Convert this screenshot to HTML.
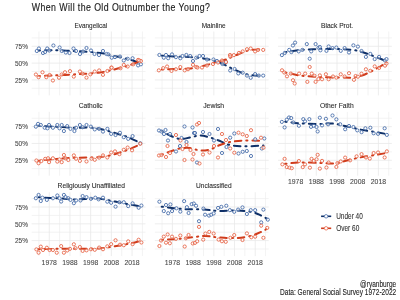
<!DOCTYPE html><html><head><meta charset="utf-8"><style>html,body{margin:0;padding:0;background:#fff;width:400px;height:300px;overflow:hidden}svg{display:block;filter:blur(0.3px)}</style></head><body>
<svg width="400" height="300" viewBox="0 0 400 300" font-family="Liberation Sans, sans-serif">
<rect width="400" height="300" fill="#fff"/>
<g stroke="#eeeeee" stroke-width="0.7" fill="none">
<line x1="38.90" y1="31.52" x2="38.90" y2="95.36"/>
<line x1="59.60" y1="31.52" x2="59.60" y2="95.36"/>
<line x1="80.30" y1="31.52" x2="80.30" y2="95.36"/>
<line x1="101.00" y1="31.52" x2="101.00" y2="95.36"/>
<line x1="121.70" y1="31.52" x2="121.70" y2="95.36"/>
<line x1="142.40" y1="31.52" x2="142.40" y2="95.36"/>
<line x1="31.66" y1="88.30" x2="145.50" y2="88.30"/>
<line x1="31.66" y1="71.50" x2="145.50" y2="71.50"/>
<line x1="31.66" y1="54.70" x2="145.50" y2="54.70"/>
<line x1="31.66" y1="37.90" x2="145.50" y2="37.90"/>
<line x1="162.07" y1="31.52" x2="162.07" y2="95.36"/>
<line x1="182.77" y1="31.52" x2="182.77" y2="95.36"/>
<line x1="203.47" y1="31.52" x2="203.47" y2="95.36"/>
<line x1="224.17" y1="31.52" x2="224.17" y2="95.36"/>
<line x1="244.87" y1="31.52" x2="244.87" y2="95.36"/>
<line x1="265.57" y1="31.52" x2="265.57" y2="95.36"/>
<line x1="154.83" y1="88.30" x2="268.68" y2="88.30"/>
<line x1="154.83" y1="71.50" x2="268.68" y2="71.50"/>
<line x1="154.83" y1="54.70" x2="268.68" y2="54.70"/>
<line x1="154.83" y1="37.90" x2="268.68" y2="37.90"/>
<line x1="285.24" y1="31.52" x2="285.24" y2="95.36"/>
<line x1="305.94" y1="31.52" x2="305.94" y2="95.36"/>
<line x1="326.64" y1="31.52" x2="326.64" y2="95.36"/>
<line x1="347.34" y1="31.52" x2="347.34" y2="95.36"/>
<line x1="368.04" y1="31.52" x2="368.04" y2="95.36"/>
<line x1="388.74" y1="31.52" x2="388.74" y2="95.36"/>
<line x1="278.00" y1="88.30" x2="391.85" y2="88.30"/>
<line x1="278.00" y1="71.50" x2="391.85" y2="71.50"/>
<line x1="278.00" y1="54.70" x2="391.85" y2="54.70"/>
<line x1="278.00" y1="37.90" x2="391.85" y2="37.90"/>
<line x1="38.90" y1="111.87" x2="38.90" y2="175.71"/>
<line x1="59.60" y1="111.87" x2="59.60" y2="175.71"/>
<line x1="80.30" y1="111.87" x2="80.30" y2="175.71"/>
<line x1="101.00" y1="111.87" x2="101.00" y2="175.71"/>
<line x1="121.70" y1="111.87" x2="121.70" y2="175.71"/>
<line x1="142.40" y1="111.87" x2="142.40" y2="175.71"/>
<line x1="31.66" y1="168.65" x2="145.50" y2="168.65"/>
<line x1="31.66" y1="151.85" x2="145.50" y2="151.85"/>
<line x1="31.66" y1="135.05" x2="145.50" y2="135.05"/>
<line x1="31.66" y1="118.25" x2="145.50" y2="118.25"/>
<line x1="162.07" y1="111.87" x2="162.07" y2="175.71"/>
<line x1="182.77" y1="111.87" x2="182.77" y2="175.71"/>
<line x1="203.47" y1="111.87" x2="203.47" y2="175.71"/>
<line x1="224.17" y1="111.87" x2="224.17" y2="175.71"/>
<line x1="244.87" y1="111.87" x2="244.87" y2="175.71"/>
<line x1="265.57" y1="111.87" x2="265.57" y2="175.71"/>
<line x1="154.83" y1="168.65" x2="268.68" y2="168.65"/>
<line x1="154.83" y1="151.85" x2="268.68" y2="151.85"/>
<line x1="154.83" y1="135.05" x2="268.68" y2="135.05"/>
<line x1="154.83" y1="118.25" x2="268.68" y2="118.25"/>
<line x1="285.24" y1="111.87" x2="285.24" y2="175.71"/>
<line x1="305.94" y1="111.87" x2="305.94" y2="175.71"/>
<line x1="326.64" y1="111.87" x2="326.64" y2="175.71"/>
<line x1="347.34" y1="111.87" x2="347.34" y2="175.71"/>
<line x1="368.04" y1="111.87" x2="368.04" y2="175.71"/>
<line x1="388.74" y1="111.87" x2="388.74" y2="175.71"/>
<line x1="278.00" y1="168.65" x2="391.85" y2="168.65"/>
<line x1="278.00" y1="151.85" x2="391.85" y2="151.85"/>
<line x1="278.00" y1="135.05" x2="391.85" y2="135.05"/>
<line x1="278.00" y1="118.25" x2="391.85" y2="118.25"/>
<line x1="38.90" y1="192.22" x2="38.90" y2="256.06"/>
<line x1="59.60" y1="192.22" x2="59.60" y2="256.06"/>
<line x1="80.30" y1="192.22" x2="80.30" y2="256.06"/>
<line x1="101.00" y1="192.22" x2="101.00" y2="256.06"/>
<line x1="121.70" y1="192.22" x2="121.70" y2="256.06"/>
<line x1="142.40" y1="192.22" x2="142.40" y2="256.06"/>
<line x1="31.66" y1="249.00" x2="145.50" y2="249.00"/>
<line x1="31.66" y1="232.20" x2="145.50" y2="232.20"/>
<line x1="31.66" y1="215.40" x2="145.50" y2="215.40"/>
<line x1="31.66" y1="198.60" x2="145.50" y2="198.60"/>
<line x1="162.07" y1="192.22" x2="162.07" y2="256.06"/>
<line x1="182.77" y1="192.22" x2="182.77" y2="256.06"/>
<line x1="203.47" y1="192.22" x2="203.47" y2="256.06"/>
<line x1="224.17" y1="192.22" x2="224.17" y2="256.06"/>
<line x1="244.87" y1="192.22" x2="244.87" y2="256.06"/>
<line x1="265.57" y1="192.22" x2="265.57" y2="256.06"/>
<line x1="154.83" y1="249.00" x2="268.68" y2="249.00"/>
<line x1="154.83" y1="232.20" x2="268.68" y2="232.20"/>
<line x1="154.83" y1="215.40" x2="268.68" y2="215.40"/>
<line x1="154.83" y1="198.60" x2="268.68" y2="198.60"/>
</g><g stroke="#e8e8e8" stroke-width="0.8" fill="none">
<line x1="49.25" y1="31.52" x2="49.25" y2="95.36"/>
<line x1="69.95" y1="31.52" x2="69.95" y2="95.36"/>
<line x1="90.65" y1="31.52" x2="90.65" y2="95.36"/>
<line x1="111.35" y1="31.52" x2="111.35" y2="95.36"/>
<line x1="132.05" y1="31.52" x2="132.05" y2="95.36"/>
<line x1="31.66" y1="79.90" x2="145.50" y2="79.90"/>
<line x1="31.66" y1="63.10" x2="145.50" y2="63.10"/>
<line x1="31.66" y1="46.30" x2="145.50" y2="46.30"/>
<line x1="172.42" y1="31.52" x2="172.42" y2="95.36"/>
<line x1="193.12" y1="31.52" x2="193.12" y2="95.36"/>
<line x1="213.82" y1="31.52" x2="213.82" y2="95.36"/>
<line x1="234.52" y1="31.52" x2="234.52" y2="95.36"/>
<line x1="255.22" y1="31.52" x2="255.22" y2="95.36"/>
<line x1="154.83" y1="79.90" x2="268.68" y2="79.90"/>
<line x1="154.83" y1="63.10" x2="268.68" y2="63.10"/>
<line x1="154.83" y1="46.30" x2="268.68" y2="46.30"/>
<line x1="295.59" y1="31.52" x2="295.59" y2="95.36"/>
<line x1="316.29" y1="31.52" x2="316.29" y2="95.36"/>
<line x1="336.99" y1="31.52" x2="336.99" y2="95.36"/>
<line x1="357.69" y1="31.52" x2="357.69" y2="95.36"/>
<line x1="378.39" y1="31.52" x2="378.39" y2="95.36"/>
<line x1="278.00" y1="79.90" x2="391.85" y2="79.90"/>
<line x1="278.00" y1="63.10" x2="391.85" y2="63.10"/>
<line x1="278.00" y1="46.30" x2="391.85" y2="46.30"/>
<line x1="49.25" y1="111.87" x2="49.25" y2="175.71"/>
<line x1="69.95" y1="111.87" x2="69.95" y2="175.71"/>
<line x1="90.65" y1="111.87" x2="90.65" y2="175.71"/>
<line x1="111.35" y1="111.87" x2="111.35" y2="175.71"/>
<line x1="132.05" y1="111.87" x2="132.05" y2="175.71"/>
<line x1="31.66" y1="160.25" x2="145.50" y2="160.25"/>
<line x1="31.66" y1="143.45" x2="145.50" y2="143.45"/>
<line x1="31.66" y1="126.65" x2="145.50" y2="126.65"/>
<line x1="172.42" y1="111.87" x2="172.42" y2="175.71"/>
<line x1="193.12" y1="111.87" x2="193.12" y2="175.71"/>
<line x1="213.82" y1="111.87" x2="213.82" y2="175.71"/>
<line x1="234.52" y1="111.87" x2="234.52" y2="175.71"/>
<line x1="255.22" y1="111.87" x2="255.22" y2="175.71"/>
<line x1="154.83" y1="160.25" x2="268.68" y2="160.25"/>
<line x1="154.83" y1="143.45" x2="268.68" y2="143.45"/>
<line x1="154.83" y1="126.65" x2="268.68" y2="126.65"/>
<line x1="295.59" y1="111.87" x2="295.59" y2="175.71"/>
<line x1="316.29" y1="111.87" x2="316.29" y2="175.71"/>
<line x1="336.99" y1="111.87" x2="336.99" y2="175.71"/>
<line x1="357.69" y1="111.87" x2="357.69" y2="175.71"/>
<line x1="378.39" y1="111.87" x2="378.39" y2="175.71"/>
<line x1="278.00" y1="160.25" x2="391.85" y2="160.25"/>
<line x1="278.00" y1="143.45" x2="391.85" y2="143.45"/>
<line x1="278.00" y1="126.65" x2="391.85" y2="126.65"/>
<line x1="49.25" y1="192.22" x2="49.25" y2="256.06"/>
<line x1="69.95" y1="192.22" x2="69.95" y2="256.06"/>
<line x1="90.65" y1="192.22" x2="90.65" y2="256.06"/>
<line x1="111.35" y1="192.22" x2="111.35" y2="256.06"/>
<line x1="132.05" y1="192.22" x2="132.05" y2="256.06"/>
<line x1="31.66" y1="240.60" x2="145.50" y2="240.60"/>
<line x1="31.66" y1="223.80" x2="145.50" y2="223.80"/>
<line x1="31.66" y1="207.00" x2="145.50" y2="207.00"/>
<line x1="172.42" y1="192.22" x2="172.42" y2="256.06"/>
<line x1="193.12" y1="192.22" x2="193.12" y2="256.06"/>
<line x1="213.82" y1="192.22" x2="213.82" y2="256.06"/>
<line x1="234.52" y1="192.22" x2="234.52" y2="256.06"/>
<line x1="255.22" y1="192.22" x2="255.22" y2="256.06"/>
<line x1="154.83" y1="240.60" x2="268.68" y2="240.60"/>
<line x1="154.83" y1="223.80" x2="268.68" y2="223.80"/>
<line x1="154.83" y1="207.00" x2="268.68" y2="207.00"/>
</g>
<g fill="none" stroke-width="2" stroke-linecap="round" stroke-dasharray="1.2 4.9 6.5 4.9" stroke-dashoffset="-2">
<path d="M36.80,50.50 C39.00,50.47 46.13,50.33 50.00,50.30 C53.87,50.27 56.33,50.18 60.00,50.30 C63.67,50.42 68.00,50.80 72.00,51.00 C76.00,51.20 80.67,51.33 84.00,51.50 C87.33,51.67 89.33,51.75 92.00,52.00 C94.67,52.25 97.67,52.67 100.00,53.00 C102.33,53.33 104.17,53.58 106.00,54.00 C107.83,54.42 108.67,55.00 111.00,55.50 C113.33,56.00 117.17,56.42 120.00,57.00 C122.83,57.58 125.83,58.42 128.00,59.00 C130.17,59.58 130.95,59.75 133.00,60.50 C135.05,61.25 139.08,63.00 140.30,63.50" stroke="#0f3068"/>
<path d="M36.80,76.00 C39.00,75.93 46.13,75.73 50.00,75.60 C53.87,75.47 56.33,75.38 60.00,75.20 C63.67,75.02 68.67,74.70 72.00,74.50 C75.33,74.30 77.00,74.17 80.00,74.00 C83.00,73.83 86.67,73.75 90.00,73.50 C93.33,73.25 97.00,72.92 100.00,72.50 C103.00,72.08 106.00,71.42 108.00,71.00 C110.00,70.58 110.00,70.50 112.00,70.00 C114.00,69.50 117.50,68.67 120.00,68.00 C122.50,67.33 124.83,66.67 127.00,66.00 C129.17,65.33 130.78,64.83 133.00,64.00 C135.22,63.17 139.08,61.50 140.30,61.00" stroke="#d03c1c"/>
<path d="M160.00,55.50 C162.50,55.67 170.00,56.25 175.00,56.50 C180.00,56.75 185.00,56.63 190.00,57.00 C195.00,57.37 200.75,58.03 205.00,58.70 C209.25,59.37 212.00,59.87 215.50,61.00 C219.00,62.13 222.58,63.95 226.00,65.50 C229.42,67.05 232.33,68.78 236.00,70.30 C239.67,71.82 243.42,73.62 248.00,74.60 C252.58,75.58 260.92,75.93 263.50,76.20" stroke="#0f3068"/>
<path d="M160.00,69.50 C162.50,69.42 170.00,69.17 175.00,69.00 C180.00,68.83 185.00,69.08 190.00,68.50 C195.00,67.92 200.75,66.50 205.00,65.50 C209.25,64.50 212.00,63.50 215.50,62.50 C219.00,61.50 222.58,60.72 226.00,59.50 C229.42,58.28 232.33,56.70 236.00,55.20 C239.67,53.70 243.42,51.48 248.00,50.50 C252.58,49.52 260.92,49.50 263.50,49.30" stroke="#d03c1c"/>
<path d="M283.40,52.50 C286.17,52.08 293.90,50.58 300.00,50.00 C306.10,49.42 313.33,49.17 320.00,49.00 C326.67,48.83 334.50,48.83 340.00,49.00 C345.50,49.17 349.33,49.50 353.00,50.00 C356.67,50.50 358.83,51.08 362.00,52.00 C365.17,52.92 368.83,54.33 372.00,55.50 C375.17,56.67 378.58,58.00 381.00,59.00 C383.42,60.00 385.58,61.08 386.50,61.50" stroke="#0f3068"/>
<path d="M283.40,72.00 C286.17,72.58 293.90,74.67 300.00,75.50 C306.10,76.33 313.33,76.67 320.00,77.00 C326.67,77.33 334.50,77.42 340.00,77.50 C345.50,77.58 349.33,77.83 353.00,77.50 C356.67,77.17 358.83,76.58 362.00,75.50 C365.17,74.42 368.83,72.58 372.00,71.00 C375.17,69.42 378.58,67.42 381.00,66.00 C383.42,64.58 385.58,63.08 386.50,62.50" stroke="#d03c1c"/>
<path d="M36.80,125.50 C39.00,125.67 46.13,126.25 50.00,126.50 C53.87,126.75 55.83,126.78 60.00,127.00 C64.17,127.22 70.00,127.72 75.00,127.80 C80.00,127.88 85.83,127.30 90.00,127.50 C94.17,127.70 96.67,128.33 100.00,129.00 C103.33,129.67 106.67,130.58 110.00,131.50 C113.33,132.42 116.67,133.42 120.00,134.50 C123.33,135.58 126.62,136.58 130.00,138.00 C133.38,139.42 138.58,142.17 140.30,143.00" stroke="#0f3068"/>
<path d="M36.80,161.00 C39.00,160.75 44.47,160.00 50.00,159.50 C55.53,159.00 63.33,158.33 70.00,158.00 C76.67,157.67 85.00,157.67 90.00,157.50 C95.00,157.33 96.67,157.33 100.00,157.00 C103.33,156.67 106.67,156.25 110.00,155.50 C113.33,154.75 116.67,153.58 120.00,152.50 C123.33,151.42 126.62,150.37 130.00,149.00 C133.38,147.63 138.58,145.08 140.30,144.30" stroke="#d03c1c"/>
<path d="M160.00,130.00 C161.67,130.92 166.67,134.00 170.00,135.50 C173.33,137.00 176.67,138.67 180.00,139.00 C183.33,139.33 186.67,138.08 190.00,137.50 C193.33,136.92 196.67,135.50 200.00,135.50 C203.33,135.50 206.67,136.58 210.00,137.50 C213.33,138.42 216.67,139.75 220.00,141.00 C223.33,142.25 225.83,144.12 230.00,145.00 C234.17,145.88 239.42,146.22 245.00,146.30 C250.58,146.38 260.42,145.63 263.50,145.50" stroke="#0f3068"/>
<path d="M160.00,155.50 C161.67,154.83 166.67,152.67 170.00,151.50 C173.33,150.33 176.67,149.08 180.00,148.50 C183.33,147.92 186.67,147.67 190.00,148.00 C193.33,148.33 196.67,150.25 200.00,150.50 C203.33,150.75 206.67,150.42 210.00,149.50 C213.33,148.58 216.67,146.25 220.00,145.00 C223.33,143.75 225.83,142.75 230.00,142.00 C234.17,141.25 239.42,140.67 245.00,140.50 C250.58,140.33 260.42,140.92 263.50,141.00" stroke="#d03c1c"/>
<path d="M283.40,121.50 C286.17,121.80 294.23,122.88 300.00,123.30 C305.77,123.72 312.67,123.97 318.00,124.00 C323.33,124.03 327.50,123.17 332.00,123.50 C336.50,123.83 340.33,125.00 345.00,126.00 C349.67,127.00 355.00,128.50 360.00,129.50 C365.00,130.50 370.58,131.25 375.00,132.00 C379.42,132.75 384.58,133.67 386.50,134.00" stroke="#0f3068"/>
<path d="M283.40,164.00 C286.17,163.75 293.90,162.67 300.00,162.50 C306.10,162.33 314.17,162.83 320.00,163.00 C325.83,163.17 330.83,163.83 335.00,163.50 C339.17,163.17 340.83,162.00 345.00,161.00 C349.17,160.00 355.00,158.50 360.00,157.50 C365.00,156.50 370.58,155.75 375.00,155.00 C379.42,154.25 384.58,153.33 386.50,153.00" stroke="#d03c1c"/>
<path d="M36.80,197.00 C39.00,197.17 45.80,197.75 50.00,198.00 C54.20,198.25 57.83,198.25 62.00,198.50 C66.17,198.75 71.17,199.42 75.00,199.50 C78.83,199.58 81.67,199.17 85.00,199.00 C88.33,198.83 91.67,198.42 95.00,198.50 C98.33,198.58 101.67,199.00 105.00,199.50 C108.33,200.00 110.83,200.67 115.00,201.50 C119.17,202.33 125.78,203.67 130.00,204.50 C134.22,205.33 138.58,206.17 140.30,206.50" stroke="#0f3068"/>
<path d="M36.80,249.30 C40.67,249.22 52.80,248.90 60.00,248.80 C67.20,248.70 74.17,248.73 80.00,248.70 C85.83,248.67 90.83,248.75 95.00,248.60 C99.17,248.45 101.67,248.20 105.00,247.80 C108.33,247.40 110.83,246.92 115.00,246.20 C119.17,245.48 125.78,244.37 130.00,243.50 C134.22,242.63 138.58,241.42 140.30,241.00" stroke="#d03c1c"/>
<path d="M160.00,206.50 C163.83,206.92 175.67,208.50 183.00,209.00 C190.33,209.50 198.00,209.17 204.00,209.50 C210.00,209.83 213.50,210.83 219.00,211.00 C224.50,211.17 231.50,210.33 237.00,210.50 C242.50,210.67 248.00,211.17 252.00,212.00 C256.00,212.83 258.28,214.25 261.00,215.50 C263.72,216.75 267.08,218.83 268.30,219.50" stroke="#0f3068"/>
<path d="M160.00,240.00 C163.83,239.75 175.67,239.17 183.00,238.50 C190.33,237.83 198.00,236.17 204.00,236.00 C210.00,235.83 213.50,237.17 219.00,237.50 C224.50,237.83 231.50,238.33 237.00,238.00 C242.50,237.67 247.83,236.58 252.00,235.50 C256.17,234.42 259.28,232.75 262.00,231.50 C264.72,230.25 267.25,228.58 268.30,228.00" stroke="#d03c1c"/>
</g>
<g fill="#fff" fill-opacity="0.5" stroke-width="0.9">
<circle cx="36.80" cy="51.00" r="1.6" stroke="#4a6fab"/>
<circle cx="38.90" cy="48.50" r="1.6" stroke="#4a6fab"/>
<circle cx="43.00" cy="53.00" r="1.6" stroke="#4a6fab"/>
<circle cx="45.10" cy="52.00" r="1.6" stroke="#4a6fab"/>
<circle cx="47.20" cy="48.50" r="1.6" stroke="#4a6fab"/>
<circle cx="49.25" cy="50.50" r="1.6" stroke="#4a6fab"/>
<circle cx="53.40" cy="45.50" r="1.6" stroke="#4a6fab"/>
<circle cx="59.60" cy="47.50" r="1.6" stroke="#4a6fab"/>
<circle cx="61.70" cy="51.00" r="1.6" stroke="#4a6fab"/>
<circle cx="65.80" cy="52.50" r="1.6" stroke="#4a6fab"/>
<circle cx="69.50" cy="53.00" r="1.6" stroke="#4a6fab"/>
<circle cx="73.50" cy="48.50" r="1.6" stroke="#4a6fab"/>
<circle cx="76.00" cy="51.00" r="1.6" stroke="#4a6fab"/>
<circle cx="80.00" cy="54.00" r="1.6" stroke="#4a6fab"/>
<circle cx="83.00" cy="51.50" r="1.6" stroke="#4a6fab"/>
<circle cx="86.50" cy="48.00" r="1.6" stroke="#4a6fab"/>
<circle cx="91.00" cy="50.50" r="1.6" stroke="#4a6fab"/>
<circle cx="94.50" cy="54.00" r="1.6" stroke="#4a6fab"/>
<circle cx="99.00" cy="55.00" r="1.6" stroke="#4a6fab"/>
<circle cx="103.00" cy="51.00" r="1.6" stroke="#4a6fab"/>
<circle cx="106.50" cy="54.00" r="1.6" stroke="#4a6fab"/>
<circle cx="108.40" cy="54.40" r="1.6" stroke="#4a6fab"/>
<circle cx="111.70" cy="57.70" r="1.6" stroke="#4a6fab"/>
<circle cx="115.00" cy="57.10" r="1.6" stroke="#4a6fab"/>
<circle cx="120.00" cy="56.60" r="1.6" stroke="#4a6fab"/>
<circle cx="123.80" cy="60.50" r="1.6" stroke="#4a6fab"/>
<circle cx="127.70" cy="58.80" r="1.6" stroke="#4a6fab"/>
<circle cx="132.60" cy="58.25" r="1.6" stroke="#4a6fab"/>
<circle cx="138.10" cy="65.40" r="1.6" stroke="#4a6fab"/>
<circle cx="140.90" cy="64.30" r="1.6" stroke="#4a6fab"/>
<circle cx="35.90" cy="74.50" r="1.6" stroke="#e8694c"/>
<circle cx="38.60" cy="77.20" r="1.6" stroke="#e8694c"/>
<circle cx="42.50" cy="72.25" r="1.6" stroke="#e8694c"/>
<circle cx="46.30" cy="77.20" r="1.6" stroke="#e8694c"/>
<circle cx="49.60" cy="75.00" r="1.6" stroke="#e8694c"/>
<circle cx="52.90" cy="80.50" r="1.6" stroke="#e8694c"/>
<circle cx="59.00" cy="77.75" r="1.6" stroke="#e8694c"/>
<circle cx="61.70" cy="74.50" r="1.6" stroke="#e8694c"/>
<circle cx="65.00" cy="72.25" r="1.6" stroke="#e8694c"/>
<circle cx="70.00" cy="71.15" r="1.6" stroke="#e8694c"/>
<circle cx="73.80" cy="76.60" r="1.6" stroke="#e8694c"/>
<circle cx="79.90" cy="71.55" r="1.6" stroke="#e8694c"/>
<circle cx="82.65" cy="73.75" r="1.6" stroke="#e8694c"/>
<circle cx="86.50" cy="77.60" r="1.6" stroke="#e8694c"/>
<circle cx="90.35" cy="74.30" r="1.6" stroke="#e8694c"/>
<circle cx="94.75" cy="71.55" r="1.6" stroke="#e8694c"/>
<circle cx="99.15" cy="70.45" r="1.6" stroke="#e8694c"/>
<circle cx="103.00" cy="74.85" r="1.6" stroke="#e8694c"/>
<circle cx="107.40" cy="71.00" r="1.6" stroke="#e8694c"/>
<circle cx="111.25" cy="67.70" r="1.6" stroke="#e8694c"/>
<circle cx="111.70" cy="67.60" r="1.6" stroke="#e8694c"/>
<circle cx="120.50" cy="68.20" r="1.6" stroke="#e8694c"/>
<circle cx="123.80" cy="64.90" r="1.6" stroke="#e8694c"/>
<circle cx="127.70" cy="66.50" r="1.6" stroke="#e8694c"/>
<circle cx="133.20" cy="64.30" r="1.6" stroke="#e8694c"/>
<circle cx="138.10" cy="59.90" r="1.6" stroke="#e8694c"/>
<circle cx="140.90" cy="61.00" r="1.6" stroke="#e8694c"/>
<circle cx="139.20" cy="60.40" r="1.6" stroke="#e8694c"/>
<circle cx="159.40" cy="54.95" r="1.6" stroke="#4a6fab"/>
<circle cx="163.80" cy="57.70" r="1.6" stroke="#4a6fab"/>
<circle cx="166.00" cy="54.95" r="1.6" stroke="#4a6fab"/>
<circle cx="168.20" cy="58.25" r="1.6" stroke="#4a6fab"/>
<circle cx="172.00" cy="54.40" r="1.6" stroke="#4a6fab"/>
<circle cx="175.90" cy="57.15" r="1.6" stroke="#4a6fab"/>
<circle cx="180.30" cy="58.25" r="1.6" stroke="#4a6fab"/>
<circle cx="182.50" cy="56.05" r="1.6" stroke="#4a6fab"/>
<circle cx="186.35" cy="54.95" r="1.6" stroke="#4a6fab"/>
<circle cx="190.20" cy="56.05" r="1.6" stroke="#4a6fab"/>
<circle cx="193.00" cy="61.00" r="1.6" stroke="#4a6fab"/>
<circle cx="196.25" cy="57.70" r="1.6" stroke="#4a6fab"/>
<circle cx="199.50" cy="56.00" r="1.6" stroke="#4a6fab"/>
<circle cx="203.00" cy="56.00" r="1.6" stroke="#4a6fab"/>
<circle cx="207.00" cy="59.50" r="1.6" stroke="#4a6fab"/>
<circle cx="213.50" cy="59.50" r="1.6" stroke="#4a6fab"/>
<circle cx="217.00" cy="61.00" r="1.6" stroke="#4a6fab"/>
<circle cx="222.50" cy="64.00" r="1.6" stroke="#4a6fab"/>
<circle cx="226.00" cy="62.00" r="1.6" stroke="#4a6fab"/>
<circle cx="230.20" cy="70.50" r="1.6" stroke="#4a6fab"/>
<circle cx="234.60" cy="69.00" r="1.6" stroke="#4a6fab"/>
<circle cx="238.30" cy="73.40" r="1.6" stroke="#4a6fab"/>
<circle cx="242.70" cy="72.70" r="1.6" stroke="#4a6fab"/>
<circle cx="247.00" cy="75.60" r="1.6" stroke="#4a6fab"/>
<circle cx="250.70" cy="77.80" r="1.6" stroke="#4a6fab"/>
<circle cx="255.10" cy="74.10" r="1.6" stroke="#4a6fab"/>
<circle cx="258.80" cy="75.60" r="1.6" stroke="#4a6fab"/>
<circle cx="263.20" cy="75.60" r="1.6" stroke="#4a6fab"/>
<circle cx="158.85" cy="70.35" r="1.6" stroke="#e8694c"/>
<circle cx="163.25" cy="68.15" r="1.6" stroke="#e8694c"/>
<circle cx="167.10" cy="66.50" r="1.6" stroke="#e8694c"/>
<circle cx="171.50" cy="70.90" r="1.6" stroke="#e8694c"/>
<circle cx="175.90" cy="69.25" r="1.6" stroke="#e8694c"/>
<circle cx="180.30" cy="67.05" r="1.6" stroke="#e8694c"/>
<circle cx="184.70" cy="70.35" r="1.6" stroke="#e8694c"/>
<circle cx="188.00" cy="69.25" r="1.6" stroke="#e8694c"/>
<circle cx="193.00" cy="64.85" r="1.6" stroke="#e8694c"/>
<circle cx="196.25" cy="67.05" r="1.6" stroke="#e8694c"/>
<circle cx="197.50" cy="67.50" r="1.6" stroke="#e8694c"/>
<circle cx="202.00" cy="67.50" r="1.6" stroke="#e8694c"/>
<circle cx="207.00" cy="65.50" r="1.6" stroke="#e8694c"/>
<circle cx="213.00" cy="64.00" r="1.6" stroke="#e8694c"/>
<circle cx="218.00" cy="62.50" r="1.6" stroke="#e8694c"/>
<circle cx="222.00" cy="60.50" r="1.6" stroke="#e8694c"/>
<circle cx="226.00" cy="62.00" r="1.6" stroke="#e8694c"/>
<circle cx="230.00" cy="55.00" r="1.6" stroke="#e8694c"/>
<circle cx="230.20" cy="56.50" r="1.6" stroke="#e8694c"/>
<circle cx="233.90" cy="55.10" r="1.6" stroke="#e8694c"/>
<circle cx="239.00" cy="52.90" r="1.6" stroke="#e8694c"/>
<circle cx="242.70" cy="51.40" r="1.6" stroke="#e8694c"/>
<circle cx="247.00" cy="49.20" r="1.6" stroke="#e8694c"/>
<circle cx="250.70" cy="48.50" r="1.6" stroke="#e8694c"/>
<circle cx="255.10" cy="51.40" r="1.6" stroke="#e8694c"/>
<circle cx="258.00" cy="49.90" r="1.6" stroke="#e8694c"/>
<circle cx="263.20" cy="49.90" r="1.6" stroke="#e8694c"/>
<circle cx="281.90" cy="55.10" r="1.6" stroke="#4a6fab"/>
<circle cx="284.80" cy="52.90" r="1.6" stroke="#4a6fab"/>
<circle cx="289.20" cy="49.90" r="1.6" stroke="#4a6fab"/>
<circle cx="291.40" cy="52.10" r="1.6" stroke="#4a6fab"/>
<circle cx="292.90" cy="45.50" r="1.6" stroke="#4a6fab"/>
<circle cx="295.10" cy="42.60" r="1.6" stroke="#4a6fab"/>
<circle cx="298.70" cy="51.40" r="1.6" stroke="#4a6fab"/>
<circle cx="302.40" cy="49.90" r="1.6" stroke="#4a6fab"/>
<circle cx="306.80" cy="44.10" r="1.6" stroke="#4a6fab"/>
<circle cx="309.70" cy="58.70" r="1.6" stroke="#4a6fab"/>
<circle cx="311.20" cy="51.40" r="1.6" stroke="#4a6fab"/>
<circle cx="315.60" cy="44.10" r="1.6" stroke="#4a6fab"/>
<circle cx="318.50" cy="47.70" r="1.6" stroke="#4a6fab"/>
<circle cx="319.85" cy="47.00" r="1.6" stroke="#4a6fab"/>
<circle cx="320.40" cy="50.30" r="1.6" stroke="#4a6fab"/>
<circle cx="326.45" cy="50.85" r="1.6" stroke="#4a6fab"/>
<circle cx="328.65" cy="46.45" r="1.6" stroke="#4a6fab"/>
<circle cx="332.50" cy="48.10" r="1.6" stroke="#4a6fab"/>
<circle cx="336.35" cy="47.55" r="1.6" stroke="#4a6fab"/>
<circle cx="340.75" cy="50.85" r="1.6" stroke="#4a6fab"/>
<circle cx="344.60" cy="48.10" r="1.6" stroke="#4a6fab"/>
<circle cx="349.00" cy="52.50" r="1.6" stroke="#4a6fab"/>
<circle cx="353.40" cy="45.35" r="1.6" stroke="#4a6fab"/>
<circle cx="357.90" cy="46.60" r="1.6" stroke="#4a6fab"/>
<circle cx="361.50" cy="51.00" r="1.6" stroke="#4a6fab"/>
<circle cx="365.90" cy="56.90" r="1.6" stroke="#4a6fab"/>
<circle cx="370.30" cy="53.90" r="1.6" stroke="#4a6fab"/>
<circle cx="374.70" cy="59.10" r="1.6" stroke="#4a6fab"/>
<circle cx="379.10" cy="56.90" r="1.6" stroke="#4a6fab"/>
<circle cx="385.00" cy="60.50" r="1.6" stroke="#4a6fab"/>
<circle cx="386.50" cy="59.10" r="1.6" stroke="#4a6fab"/>
<circle cx="282.00" cy="70.30" r="1.6" stroke="#e8694c"/>
<circle cx="284.25" cy="72.50" r="1.6" stroke="#e8694c"/>
<circle cx="287.00" cy="76.35" r="1.6" stroke="#e8694c"/>
<circle cx="290.85" cy="73.60" r="1.6" stroke="#e8694c"/>
<circle cx="293.00" cy="80.20" r="1.6" stroke="#e8694c"/>
<circle cx="294.70" cy="83.50" r="1.6" stroke="#e8694c"/>
<circle cx="299.10" cy="73.60" r="1.6" stroke="#e8694c"/>
<circle cx="305.15" cy="73.60" r="1.6" stroke="#e8694c"/>
<circle cx="307.35" cy="81.85" r="1.6" stroke="#e8694c"/>
<circle cx="309.70" cy="67.00" r="1.6" stroke="#e8694c"/>
<circle cx="311.75" cy="73.60" r="1.6" stroke="#e8694c"/>
<circle cx="314.50" cy="75.80" r="1.6" stroke="#e8694c"/>
<circle cx="315.60" cy="81.85" r="1.6" stroke="#e8694c"/>
<circle cx="318.35" cy="79.10" r="1.6" stroke="#e8694c"/>
<circle cx="319.85" cy="75.40" r="1.6" stroke="#e8694c"/>
<circle cx="322.05" cy="79.25" r="1.6" stroke="#e8694c"/>
<circle cx="325.90" cy="74.30" r="1.6" stroke="#e8694c"/>
<circle cx="328.65" cy="79.25" r="1.6" stroke="#e8694c"/>
<circle cx="333.00" cy="76.50" r="1.6" stroke="#e8694c"/>
<circle cx="336.35" cy="77.60" r="1.6" stroke="#e8694c"/>
<circle cx="340.75" cy="74.30" r="1.6" stroke="#e8694c"/>
<circle cx="344.60" cy="76.50" r="1.6" stroke="#e8694c"/>
<circle cx="349.00" cy="73.20" r="1.6" stroke="#e8694c"/>
<circle cx="353.95" cy="79.80" r="1.6" stroke="#e8694c"/>
<circle cx="355.60" cy="76.00" r="1.6" stroke="#e8694c"/>
<circle cx="357.90" cy="76.70" r="1.6" stroke="#e8694c"/>
<circle cx="361.50" cy="73.70" r="1.6" stroke="#e8694c"/>
<circle cx="365.90" cy="69.30" r="1.6" stroke="#e8694c"/>
<circle cx="370.30" cy="70.80" r="1.6" stroke="#e8694c"/>
<circle cx="374.70" cy="66.40" r="1.6" stroke="#e8694c"/>
<circle cx="379.10" cy="67.90" r="1.6" stroke="#e8694c"/>
<circle cx="385.00" cy="65.65" r="1.6" stroke="#e8694c"/>
<circle cx="386.50" cy="63.50" r="1.6" stroke="#e8694c"/>
<circle cx="35.85" cy="126.65" r="1.6" stroke="#4a6fab"/>
<circle cx="38.05" cy="123.90" r="1.6" stroke="#4a6fab"/>
<circle cx="40.80" cy="125.00" r="1.6" stroke="#4a6fab"/>
<circle cx="44.65" cy="127.75" r="1.6" stroke="#4a6fab"/>
<circle cx="47.40" cy="128.30" r="1.6" stroke="#4a6fab"/>
<circle cx="49.05" cy="125.00" r="1.6" stroke="#4a6fab"/>
<circle cx="52.90" cy="127.75" r="1.6" stroke="#4a6fab"/>
<circle cx="57.30" cy="125.00" r="1.6" stroke="#4a6fab"/>
<circle cx="59.50" cy="128.30" r="1.6" stroke="#4a6fab"/>
<circle cx="61.70" cy="125.00" r="1.6" stroke="#4a6fab"/>
<circle cx="63.90" cy="131.05" r="1.6" stroke="#4a6fab"/>
<circle cx="67.20" cy="126.10" r="1.6" stroke="#4a6fab"/>
<circle cx="70.50" cy="128.85" r="1.6" stroke="#4a6fab"/>
<circle cx="74.40" cy="131.05" r="1.6" stroke="#4a6fab"/>
<circle cx="76.05" cy="127.75" r="1.6" stroke="#4a6fab"/>
<circle cx="79.90" cy="125.00" r="1.6" stroke="#4a6fab"/>
<circle cx="82.65" cy="127.20" r="1.6" stroke="#4a6fab"/>
<circle cx="86.50" cy="125.00" r="1.6" stroke="#4a6fab"/>
<circle cx="90.90" cy="126.65" r="1.6" stroke="#4a6fab"/>
<circle cx="94.75" cy="129.40" r="1.6" stroke="#4a6fab"/>
<circle cx="99.15" cy="128.85" r="1.6" stroke="#4a6fab"/>
<circle cx="103.00" cy="131.60" r="1.6" stroke="#4a6fab"/>
<circle cx="107.40" cy="128.85" r="1.6" stroke="#4a6fab"/>
<circle cx="111.15" cy="133.90" r="1.6" stroke="#4a6fab"/>
<circle cx="115.55" cy="135.00" r="1.6" stroke="#4a6fab"/>
<circle cx="119.95" cy="132.80" r="1.6" stroke="#4a6fab"/>
<circle cx="123.80" cy="137.20" r="1.6" stroke="#4a6fab"/>
<circle cx="128.20" cy="138.85" r="1.6" stroke="#4a6fab"/>
<circle cx="132.60" cy="136.10" r="1.6" stroke="#4a6fab"/>
<circle cx="140.30" cy="143.25" r="1.6" stroke="#4a6fab"/>
<circle cx="36.40" cy="160.50" r="1.6" stroke="#e8694c"/>
<circle cx="38.60" cy="163.25" r="1.6" stroke="#e8694c"/>
<circle cx="41.35" cy="161.05" r="1.6" stroke="#e8694c"/>
<circle cx="45.20" cy="158.85" r="1.6" stroke="#e8694c"/>
<circle cx="48.00" cy="158.30" r="1.6" stroke="#e8694c"/>
<circle cx="49.05" cy="162.15" r="1.6" stroke="#e8694c"/>
<circle cx="52.90" cy="158.30" r="1.6" stroke="#e8694c"/>
<circle cx="57.30" cy="161.60" r="1.6" stroke="#e8694c"/>
<circle cx="59.50" cy="159.40" r="1.6" stroke="#e8694c"/>
<circle cx="61.70" cy="162.15" r="1.6" stroke="#e8694c"/>
<circle cx="63.90" cy="155.00" r="1.6" stroke="#e8694c"/>
<circle cx="65.55" cy="158.30" r="1.6" stroke="#e8694c"/>
<circle cx="68.30" cy="160.00" r="1.6" stroke="#e8694c"/>
<circle cx="73.85" cy="155.40" r="1.6" stroke="#e8694c"/>
<circle cx="76.05" cy="158.70" r="1.6" stroke="#e8694c"/>
<circle cx="79.90" cy="160.90" r="1.6" stroke="#e8694c"/>
<circle cx="86.50" cy="161.45" r="1.6" stroke="#e8694c"/>
<circle cx="91.45" cy="158.70" r="1.6" stroke="#e8694c"/>
<circle cx="94.75" cy="159.80" r="1.6" stroke="#e8694c"/>
<circle cx="99.15" cy="157.60" r="1.6" stroke="#e8694c"/>
<circle cx="103.00" cy="155.40" r="1.6" stroke="#e8694c"/>
<circle cx="107.30" cy="157.45" r="1.6" stroke="#e8694c"/>
<circle cx="111.15" cy="152.50" r="1.6" stroke="#e8694c"/>
<circle cx="115.00" cy="151.40" r="1.6" stroke="#e8694c"/>
<circle cx="119.40" cy="154.15" r="1.6" stroke="#e8694c"/>
<circle cx="123.80" cy="149.75" r="1.6" stroke="#e8694c"/>
<circle cx="127.65" cy="147.55" r="1.6" stroke="#e8694c"/>
<circle cx="132.05" cy="150.30" r="1.6" stroke="#e8694c"/>
<circle cx="140.30" cy="143.80" r="1.6" stroke="#e8694c"/>
<circle cx="159.00" cy="130.50" r="1.6" stroke="#4a6fab"/>
<circle cx="161.50" cy="131.50" r="1.6" stroke="#4a6fab"/>
<circle cx="165.50" cy="130.00" r="1.6" stroke="#4a6fab"/>
<circle cx="164.00" cy="134.00" r="1.6" stroke="#4a6fab"/>
<circle cx="170.00" cy="134.00" r="1.6" stroke="#4a6fab"/>
<circle cx="168.00" cy="140.50" r="1.6" stroke="#4a6fab"/>
<circle cx="176.00" cy="151.50" r="1.6" stroke="#4a6fab"/>
<circle cx="180.00" cy="146.00" r="1.6" stroke="#4a6fab"/>
<circle cx="181.50" cy="138.00" r="1.6" stroke="#4a6fab"/>
<circle cx="184.50" cy="126.50" r="1.6" stroke="#4a6fab"/>
<circle cx="186.50" cy="142.00" r="1.6" stroke="#4a6fab"/>
<circle cx="192.50" cy="127.50" r="1.6" stroke="#4a6fab"/>
<circle cx="194.00" cy="133.00" r="1.6" stroke="#4a6fab"/>
<circle cx="195.00" cy="133.00" r="1.6" stroke="#4a6fab"/>
<circle cx="197.00" cy="162.50" r="1.6" stroke="#4a6fab"/>
<circle cx="203.00" cy="132.00" r="1.6" stroke="#4a6fab"/>
<circle cx="209.50" cy="134.00" r="1.6" stroke="#4a6fab"/>
<circle cx="214.00" cy="140.50" r="1.6" stroke="#4a6fab"/>
<circle cx="218.00" cy="129.00" r="1.6" stroke="#4a6fab"/>
<circle cx="222.00" cy="153.00" r="1.6" stroke="#4a6fab"/>
<circle cx="226.50" cy="147.00" r="1.6" stroke="#4a6fab"/>
<circle cx="230.20" cy="137.70" r="1.6" stroke="#4a6fab"/>
<circle cx="234.30" cy="133.50" r="1.6" stroke="#4a6fab"/>
<circle cx="238.50" cy="153.50" r="1.6" stroke="#4a6fab"/>
<circle cx="242.70" cy="151.80" r="1.6" stroke="#4a6fab"/>
<circle cx="246.80" cy="151.00" r="1.6" stroke="#4a6fab"/>
<circle cx="251.00" cy="156.00" r="1.6" stroke="#4a6fab"/>
<circle cx="255.20" cy="139.30" r="1.6" stroke="#4a6fab"/>
<circle cx="261.80" cy="148.50" r="1.6" stroke="#4a6fab"/>
<circle cx="264.30" cy="138.50" r="1.6" stroke="#4a6fab"/>
<circle cx="159.00" cy="155.50" r="1.6" stroke="#e8694c"/>
<circle cx="161.50" cy="155.00" r="1.6" stroke="#e8694c"/>
<circle cx="166.00" cy="157.00" r="1.6" stroke="#e8694c"/>
<circle cx="167.50" cy="146.00" r="1.6" stroke="#e8694c"/>
<circle cx="170.00" cy="153.00" r="1.6" stroke="#e8694c"/>
<circle cx="176.00" cy="135.00" r="1.6" stroke="#e8694c"/>
<circle cx="180.50" cy="140.50" r="1.6" stroke="#e8694c"/>
<circle cx="182.50" cy="149.00" r="1.6" stroke="#e8694c"/>
<circle cx="184.50" cy="160.00" r="1.6" stroke="#e8694c"/>
<circle cx="186.50" cy="145.00" r="1.6" stroke="#e8694c"/>
<circle cx="190.50" cy="150.00" r="1.6" stroke="#e8694c"/>
<circle cx="193.50" cy="154.00" r="1.6" stroke="#e8694c"/>
<circle cx="192.50" cy="159.50" r="1.6" stroke="#e8694c"/>
<circle cx="197.00" cy="124.50" r="1.6" stroke="#e8694c"/>
<circle cx="199.00" cy="123.00" r="1.6" stroke="#e8694c"/>
<circle cx="199.50" cy="163.50" r="1.6" stroke="#e8694c"/>
<circle cx="203.00" cy="154.50" r="1.6" stroke="#e8694c"/>
<circle cx="209.50" cy="152.50" r="1.6" stroke="#e8694c"/>
<circle cx="214.00" cy="146.00" r="1.6" stroke="#e8694c"/>
<circle cx="218.00" cy="157.50" r="1.6" stroke="#e8694c"/>
<circle cx="222.00" cy="134.00" r="1.6" stroke="#e8694c"/>
<circle cx="226.00" cy="140.00" r="1.6" stroke="#e8694c"/>
<circle cx="230.20" cy="148.50" r="1.6" stroke="#e8694c"/>
<circle cx="234.30" cy="152.70" r="1.6" stroke="#e8694c"/>
<circle cx="238.50" cy="132.70" r="1.6" stroke="#e8694c"/>
<circle cx="242.70" cy="134.30" r="1.6" stroke="#e8694c"/>
<circle cx="246.80" cy="136.00" r="1.6" stroke="#e8694c"/>
<circle cx="251.00" cy="130.20" r="1.6" stroke="#e8694c"/>
<circle cx="261.00" cy="137.70" r="1.6" stroke="#e8694c"/>
<circle cx="263.50" cy="147.70" r="1.6" stroke="#e8694c"/>
<circle cx="281.85" cy="121.90" r="1.6" stroke="#4a6fab"/>
<circle cx="284.60" cy="127.40" r="1.6" stroke="#4a6fab"/>
<circle cx="286.80" cy="119.70" r="1.6" stroke="#4a6fab"/>
<circle cx="289.00" cy="117.50" r="1.6" stroke="#4a6fab"/>
<circle cx="291.20" cy="118.05" r="1.6" stroke="#4a6fab"/>
<circle cx="293.40" cy="122.45" r="1.6" stroke="#4a6fab"/>
<circle cx="298.90" cy="125.75" r="1.6" stroke="#4a6fab"/>
<circle cx="303.30" cy="119.15" r="1.6" stroke="#4a6fab"/>
<circle cx="305.00" cy="121.35" r="1.6" stroke="#4a6fab"/>
<circle cx="309.35" cy="119.15" r="1.6" stroke="#4a6fab"/>
<circle cx="311.00" cy="126.85" r="1.6" stroke="#4a6fab"/>
<circle cx="313.75" cy="125.75" r="1.6" stroke="#4a6fab"/>
<circle cx="316.55" cy="127.00" r="1.6" stroke="#4a6fab"/>
<circle cx="317.65" cy="131.45" r="1.6" stroke="#4a6fab"/>
<circle cx="319.85" cy="117.70" r="1.6" stroke="#4a6fab"/>
<circle cx="322.05" cy="125.40" r="1.6" stroke="#4a6fab"/>
<circle cx="325.90" cy="118.80" r="1.6" stroke="#4a6fab"/>
<circle cx="328.10" cy="124.30" r="1.6" stroke="#4a6fab"/>
<circle cx="332.50" cy="115.50" r="1.6" stroke="#4a6fab"/>
<circle cx="336.35" cy="119.35" r="1.6" stroke="#4a6fab"/>
<circle cx="340.20" cy="124.30" r="1.6" stroke="#4a6fab"/>
<circle cx="345.15" cy="129.25" r="1.6" stroke="#4a6fab"/>
<circle cx="349.00" cy="126.00" r="1.6" stroke="#4a6fab"/>
<circle cx="353.40" cy="127.05" r="1.6" stroke="#4a6fab"/>
<circle cx="357.25" cy="130.35" r="1.6" stroke="#4a6fab"/>
<circle cx="361.55" cy="132.15" r="1.6" stroke="#4a6fab"/>
<circle cx="365.40" cy="128.30" r="1.6" stroke="#4a6fab"/>
<circle cx="370.35" cy="127.75" r="1.6" stroke="#4a6fab"/>
<circle cx="373.65" cy="133.25" r="1.6" stroke="#4a6fab"/>
<circle cx="378.05" cy="133.80" r="1.6" stroke="#4a6fab"/>
<circle cx="384.65" cy="128.30" r="1.6" stroke="#4a6fab"/>
<circle cx="386.85" cy="134.90" r="1.6" stroke="#4a6fab"/>
<circle cx="282.40" cy="164.35" r="1.6" stroke="#e8694c"/>
<circle cx="284.60" cy="158.85" r="1.6" stroke="#e8694c"/>
<circle cx="286.80" cy="167.10" r="1.6" stroke="#e8694c"/>
<circle cx="289.55" cy="167.65" r="1.6" stroke="#e8694c"/>
<circle cx="291.75" cy="168.20" r="1.6" stroke="#e8694c"/>
<circle cx="298.90" cy="161.05" r="1.6" stroke="#e8694c"/>
<circle cx="302.75" cy="167.10" r="1.6" stroke="#e8694c"/>
<circle cx="305.00" cy="164.35" r="1.6" stroke="#e8694c"/>
<circle cx="309.90" cy="167.65" r="1.6" stroke="#e8694c"/>
<circle cx="311.55" cy="158.85" r="1.6" stroke="#e8694c"/>
<circle cx="313.75" cy="161.05" r="1.6" stroke="#e8694c"/>
<circle cx="317.65" cy="154.85" r="1.6" stroke="#e8694c"/>
<circle cx="316.55" cy="159.25" r="1.6" stroke="#e8694c"/>
<circle cx="319.85" cy="168.60" r="1.6" stroke="#e8694c"/>
<circle cx="322.05" cy="160.90" r="1.6" stroke="#e8694c"/>
<circle cx="326.45" cy="167.50" r="1.6" stroke="#e8694c"/>
<circle cx="328.65" cy="162.55" r="1.6" stroke="#e8694c"/>
<circle cx="336.35" cy="166.95" r="1.6" stroke="#e8694c"/>
<circle cx="337.45" cy="163.10" r="1.6" stroke="#e8694c"/>
<circle cx="340.75" cy="161.45" r="1.6" stroke="#e8694c"/>
<circle cx="345.15" cy="157.60" r="1.6" stroke="#e8694c"/>
<circle cx="350.10" cy="160.35" r="1.6" stroke="#e8694c"/>
<circle cx="356.60" cy="156.35" r="1.6" stroke="#e8694c"/>
<circle cx="361.55" cy="154.15" r="1.6" stroke="#e8694c"/>
<circle cx="366.00" cy="157.45" r="1.6" stroke="#e8694c"/>
<circle cx="369.80" cy="158.55" r="1.6" stroke="#e8694c"/>
<circle cx="373.65" cy="153.05" r="1.6" stroke="#e8694c"/>
<circle cx="378.05" cy="152.50" r="1.6" stroke="#e8694c"/>
<circle cx="384.65" cy="157.45" r="1.6" stroke="#e8694c"/>
<circle cx="386.85" cy="151.40" r="1.6" stroke="#e8694c"/>
<circle cx="35.85" cy="198.25" r="1.6" stroke="#4a6fab"/>
<circle cx="38.60" cy="194.95" r="1.6" stroke="#4a6fab"/>
<circle cx="40.80" cy="201.00" r="1.6" stroke="#4a6fab"/>
<circle cx="42.45" cy="197.70" r="1.6" stroke="#4a6fab"/>
<circle cx="46.85" cy="199.90" r="1.6" stroke="#4a6fab"/>
<circle cx="52.90" cy="198.25" r="1.6" stroke="#4a6fab"/>
<circle cx="57.30" cy="195.50" r="1.6" stroke="#4a6fab"/>
<circle cx="59.50" cy="198.25" r="1.6" stroke="#4a6fab"/>
<circle cx="61.15" cy="201.55" r="1.6" stroke="#4a6fab"/>
<circle cx="63.90" cy="194.95" r="1.6" stroke="#4a6fab"/>
<circle cx="65.55" cy="197.15" r="1.6" stroke="#4a6fab"/>
<circle cx="68.30" cy="198.25" r="1.6" stroke="#4a6fab"/>
<circle cx="70.50" cy="199.90" r="1.6" stroke="#4a6fab"/>
<circle cx="73.85" cy="203.20" r="1.6" stroke="#4a6fab"/>
<circle cx="76.05" cy="200.45" r="1.6" stroke="#4a6fab"/>
<circle cx="80.45" cy="200.45" r="1.6" stroke="#4a6fab"/>
<circle cx="82.65" cy="196.05" r="1.6" stroke="#4a6fab"/>
<circle cx="86.50" cy="197.15" r="1.6" stroke="#4a6fab"/>
<circle cx="90.90" cy="198.80" r="1.6" stroke="#4a6fab"/>
<circle cx="95.30" cy="197.70" r="1.6" stroke="#4a6fab"/>
<circle cx="98.60" cy="199.35" r="1.6" stroke="#4a6fab"/>
<circle cx="103.00" cy="197.70" r="1.6" stroke="#4a6fab"/>
<circle cx="107.30" cy="201.70" r="1.6" stroke="#4a6fab"/>
<circle cx="111.15" cy="202.80" r="1.6" stroke="#4a6fab"/>
<circle cx="115.55" cy="206.65" r="1.6" stroke="#4a6fab"/>
<circle cx="119.40" cy="202.25" r="1.6" stroke="#4a6fab"/>
<circle cx="123.80" cy="202.25" r="1.6" stroke="#4a6fab"/>
<circle cx="128.20" cy="206.10" r="1.6" stroke="#4a6fab"/>
<circle cx="132.60" cy="203.35" r="1.6" stroke="#4a6fab"/>
<circle cx="138.65" cy="207.75" r="1.6" stroke="#4a6fab"/>
<circle cx="141.40" cy="205.55" r="1.6" stroke="#4a6fab"/>
<circle cx="36.40" cy="249.40" r="1.6" stroke="#e8694c"/>
<circle cx="38.60" cy="252.70" r="1.6" stroke="#e8694c"/>
<circle cx="40.80" cy="246.65" r="1.6" stroke="#e8694c"/>
<circle cx="43.00" cy="250.00" r="1.6" stroke="#e8694c"/>
<circle cx="46.85" cy="247.75" r="1.6" stroke="#e8694c"/>
<circle cx="49.60" cy="250.00" r="1.6" stroke="#e8694c"/>
<circle cx="52.90" cy="250.00" r="1.6" stroke="#e8694c"/>
<circle cx="56.75" cy="252.70" r="1.6" stroke="#e8694c"/>
<circle cx="61.15" cy="246.10" r="1.6" stroke="#e8694c"/>
<circle cx="63.90" cy="252.70" r="1.6" stroke="#e8694c"/>
<circle cx="67.20" cy="250.50" r="1.6" stroke="#e8694c"/>
<circle cx="69.95" cy="248.85" r="1.6" stroke="#e8694c"/>
<circle cx="73.85" cy="244.30" r="1.6" stroke="#e8694c"/>
<circle cx="75.50" cy="248.15" r="1.6" stroke="#e8694c"/>
<circle cx="79.90" cy="247.05" r="1.6" stroke="#e8694c"/>
<circle cx="82.65" cy="250.90" r="1.6" stroke="#e8694c"/>
<circle cx="86.50" cy="250.35" r="1.6" stroke="#e8694c"/>
<circle cx="90.90" cy="249.25" r="1.6" stroke="#e8694c"/>
<circle cx="94.75" cy="249.80" r="1.6" stroke="#e8694c"/>
<circle cx="99.15" cy="247.60" r="1.6" stroke="#e8694c"/>
<circle cx="103.00" cy="249.25" r="1.6" stroke="#e8694c"/>
<circle cx="107.30" cy="246.35" r="1.6" stroke="#e8694c"/>
<circle cx="111.15" cy="244.15" r="1.6" stroke="#e8694c"/>
<circle cx="115.55" cy="240.30" r="1.6" stroke="#e8694c"/>
<circle cx="120.00" cy="244.70" r="1.6" stroke="#e8694c"/>
<circle cx="123.80" cy="245.25" r="1.6" stroke="#e8694c"/>
<circle cx="128.20" cy="241.40" r="1.6" stroke="#e8694c"/>
<circle cx="132.60" cy="244.15" r="1.6" stroke="#e8694c"/>
<circle cx="138.65" cy="239.75" r="1.6" stroke="#e8694c"/>
<circle cx="141.40" cy="242.50" r="1.6" stroke="#e8694c"/>
<circle cx="159.40" cy="201.70" r="1.6" stroke="#4a6fab"/>
<circle cx="163.80" cy="211.05" r="1.6" stroke="#4a6fab"/>
<circle cx="166.00" cy="205.00" r="1.6" stroke="#4a6fab"/>
<circle cx="168.20" cy="213.25" r="1.6" stroke="#4a6fab"/>
<circle cx="170.40" cy="204.45" r="1.6" stroke="#4a6fab"/>
<circle cx="172.05" cy="211.05" r="1.6" stroke="#4a6fab"/>
<circle cx="176.45" cy="208.30" r="1.6" stroke="#4a6fab"/>
<circle cx="180.30" cy="211.60" r="1.6" stroke="#4a6fab"/>
<circle cx="184.15" cy="201.15" r="1.6" stroke="#4a6fab"/>
<circle cx="186.90" cy="207.20" r="1.6" stroke="#4a6fab"/>
<circle cx="188.60" cy="213.00" r="1.6" stroke="#4a6fab"/>
<circle cx="191.65" cy="204.10" r="1.6" stroke="#4a6fab"/>
<circle cx="193.85" cy="203.55" r="1.6" stroke="#4a6fab"/>
<circle cx="196.05" cy="205.75" r="1.6" stroke="#4a6fab"/>
<circle cx="199.00" cy="221.20" r="1.6" stroke="#4a6fab"/>
<circle cx="203.40" cy="208.60" r="1.6" stroke="#4a6fab"/>
<circle cx="205.10" cy="214.70" r="1.6" stroke="#4a6fab"/>
<circle cx="209.00" cy="215.60" r="1.6" stroke="#4a6fab"/>
<circle cx="211.20" cy="214.70" r="1.6" stroke="#4a6fab"/>
<circle cx="213.65" cy="213.45" r="1.6" stroke="#4a6fab"/>
<circle cx="218.05" cy="207.95" r="1.6" stroke="#4a6fab"/>
<circle cx="221.35" cy="206.85" r="1.6" stroke="#4a6fab"/>
<circle cx="226.30" cy="205.75" r="1.6" stroke="#4a6fab"/>
<circle cx="229.85" cy="210.15" r="1.6" stroke="#4a6fab"/>
<circle cx="234.25" cy="211.80" r="1.6" stroke="#4a6fab"/>
<circle cx="238.10" cy="209.60" r="1.6" stroke="#4a6fab"/>
<circle cx="242.50" cy="207.40" r="1.6" stroke="#4a6fab"/>
<circle cx="246.90" cy="214.00" r="1.6" stroke="#4a6fab"/>
<circle cx="250.75" cy="210.15" r="1.6" stroke="#4a6fab"/>
<circle cx="255.15" cy="210.15" r="1.6" stroke="#4a6fab"/>
<circle cx="261.20" cy="222.40" r="1.6" stroke="#4a6fab"/>
<circle cx="263.40" cy="209.60" r="1.6" stroke="#4a6fab"/>
<circle cx="267.80" cy="219.65" r="1.6" stroke="#4a6fab"/>
<circle cx="159.40" cy="246.00" r="1.6" stroke="#e8694c"/>
<circle cx="161.05" cy="240.50" r="1.6" stroke="#e8694c"/>
<circle cx="163.80" cy="236.65" r="1.6" stroke="#e8694c"/>
<circle cx="166.00" cy="242.70" r="1.6" stroke="#e8694c"/>
<circle cx="167.65" cy="234.45" r="1.6" stroke="#e8694c"/>
<circle cx="169.85" cy="243.25" r="1.6" stroke="#e8694c"/>
<circle cx="172.05" cy="236.65" r="1.6" stroke="#e8694c"/>
<circle cx="175.90" cy="238.85" r="1.6" stroke="#e8694c"/>
<circle cx="180.30" cy="235.55" r="1.6" stroke="#e8694c"/>
<circle cx="184.70" cy="246.55" r="1.6" stroke="#e8694c"/>
<circle cx="185.80" cy="238.30" r="1.6" stroke="#e8694c"/>
<circle cx="188.55" cy="235.00" r="1.6" stroke="#e8694c"/>
<circle cx="192.75" cy="243.45" r="1.6" stroke="#e8694c"/>
<circle cx="194.95" cy="242.90" r="1.6" stroke="#e8694c"/>
<circle cx="197.15" cy="241.25" r="1.6" stroke="#e8694c"/>
<circle cx="199.00" cy="226.90" r="1.6" stroke="#e8694c"/>
<circle cx="203.20" cy="239.60" r="1.6" stroke="#e8694c"/>
<circle cx="205.40" cy="233.55" r="1.6" stroke="#e8694c"/>
<circle cx="209.25" cy="231.90" r="1.6" stroke="#e8694c"/>
<circle cx="213.65" cy="233.55" r="1.6" stroke="#e8694c"/>
<circle cx="218.60" cy="239.60" r="1.6" stroke="#e8694c"/>
<circle cx="221.90" cy="241.25" r="1.6" stroke="#e8694c"/>
<circle cx="225.75" cy="241.80" r="1.6" stroke="#e8694c"/>
<circle cx="230.40" cy="237.80" r="1.6" stroke="#e8694c"/>
<circle cx="234.25" cy="235.05" r="1.6" stroke="#e8694c"/>
<circle cx="242.50" cy="240.00" r="1.6" stroke="#e8694c"/>
<circle cx="246.90" cy="233.40" r="1.6" stroke="#e8694c"/>
<circle cx="251.30" cy="237.25" r="1.6" stroke="#e8694c"/>
<circle cx="255.15" cy="236.70" r="1.6" stroke="#e8694c"/>
<circle cx="261.20" cy="225.70" r="1.6" stroke="#e8694c"/>
<circle cx="263.40" cy="237.80" r="1.6" stroke="#e8694c"/>
<circle cx="267.25" cy="227.90" r="1.6" stroke="#e8694c"/>
</g>
<text transform="translate(31.8,11.2) scale(0.86,1)" font-size="10.2" fill="#222" stroke="#222" stroke-width="0.15" textLength="207.2" lengthAdjust="spacing">When Will the Old Outnumber the Young?</text>
<text x="74.50" y="27.70" font-size="7.90" fill="#2a2a2a" stroke="#2a2a2a" stroke-width="0.1" text-anchor="start" textLength="32.7" lengthAdjust="spacingAndGlyphs">Evangelical</text>
<text x="201.70" y="27.70" font-size="7.90" fill="#2a2a2a" stroke="#2a2a2a" stroke-width="0.1" text-anchor="start" textLength="24.0" lengthAdjust="spacingAndGlyphs">Mainline</text>
<text x="321.00" y="27.70" font-size="7.90" fill="#2a2a2a" stroke="#2a2a2a" stroke-width="0.1" text-anchor="start" textLength="32.2" lengthAdjust="spacingAndGlyphs">Black Prot.</text>
<text x="78.70" y="108.05" font-size="7.90" fill="#2a2a2a" stroke="#2a2a2a" stroke-width="0.1" text-anchor="start" textLength="24.0" lengthAdjust="spacingAndGlyphs">Catholic</text>
<text x="203.20" y="108.05" font-size="7.90" fill="#2a2a2a" stroke="#2a2a2a" stroke-width="0.1" text-anchor="start" textLength="21.0" lengthAdjust="spacingAndGlyphs">Jewish</text>
<text x="320.00" y="108.05" font-size="7.90" fill="#2a2a2a" stroke="#2a2a2a" stroke-width="0.1" text-anchor="start" textLength="33.7" lengthAdjust="spacingAndGlyphs">Other Faith</text>
<text x="57.60" y="188.40" font-size="7.90" fill="#2a2a2a" stroke="#2a2a2a" stroke-width="0.1" text-anchor="start" textLength="67.4" lengthAdjust="spacingAndGlyphs">Religiously Unaffiliated</text>
<text x="196.10" y="188.40" font-size="7.90" fill="#2a2a2a" stroke="#2a2a2a" stroke-width="0.1" text-anchor="start" textLength="35.6" lengthAdjust="spacingAndGlyphs">Unclassified</text>
<text x="28.00" y="49.10" font-size="7.90" fill="#4a4a4a" stroke="#4a4a4a" stroke-width="0.1" text-anchor="end" textLength="13.0" lengthAdjust="spacingAndGlyphs">75%</text>
<text x="28.00" y="65.90" font-size="7.90" fill="#4a4a4a" stroke="#4a4a4a" stroke-width="0.1" text-anchor="end" textLength="13.0" lengthAdjust="spacingAndGlyphs">50%</text>
<text x="28.00" y="82.70" font-size="7.90" fill="#4a4a4a" stroke="#4a4a4a" stroke-width="0.1" text-anchor="end" textLength="13.0" lengthAdjust="spacingAndGlyphs">25%</text>
<text x="28.00" y="129.45" font-size="7.90" fill="#4a4a4a" stroke="#4a4a4a" stroke-width="0.1" text-anchor="end" textLength="13.0" lengthAdjust="spacingAndGlyphs">75%</text>
<text x="28.00" y="146.25" font-size="7.90" fill="#4a4a4a" stroke="#4a4a4a" stroke-width="0.1" text-anchor="end" textLength="13.0" lengthAdjust="spacingAndGlyphs">50%</text>
<text x="28.00" y="163.05" font-size="7.90" fill="#4a4a4a" stroke="#4a4a4a" stroke-width="0.1" text-anchor="end" textLength="13.0" lengthAdjust="spacingAndGlyphs">25%</text>
<text x="28.00" y="209.80" font-size="7.90" fill="#4a4a4a" stroke="#4a4a4a" stroke-width="0.1" text-anchor="end" textLength="13.0" lengthAdjust="spacingAndGlyphs">75%</text>
<text x="28.00" y="226.60" font-size="7.90" fill="#4a4a4a" stroke="#4a4a4a" stroke-width="0.1" text-anchor="end" textLength="13.0" lengthAdjust="spacingAndGlyphs">50%</text>
<text x="28.00" y="243.40" font-size="7.90" fill="#4a4a4a" stroke="#4a4a4a" stroke-width="0.1" text-anchor="end" textLength="13.0" lengthAdjust="spacingAndGlyphs">25%</text>
<text x="295.59" y="184.40" font-size="7.90" fill="#4a4a4a" stroke="#4a4a4a" stroke-width="0.1" text-anchor="middle" textLength="15.3" lengthAdjust="spacingAndGlyphs">1978</text>
<text x="316.29" y="184.40" font-size="7.90" fill="#4a4a4a" stroke="#4a4a4a" stroke-width="0.1" text-anchor="middle" textLength="15.3" lengthAdjust="spacingAndGlyphs">1988</text>
<text x="336.99" y="184.40" font-size="7.90" fill="#4a4a4a" stroke="#4a4a4a" stroke-width="0.1" text-anchor="middle" textLength="15.3" lengthAdjust="spacingAndGlyphs">1998</text>
<text x="357.69" y="184.40" font-size="7.90" fill="#4a4a4a" stroke="#4a4a4a" stroke-width="0.1" text-anchor="middle" textLength="15.3" lengthAdjust="spacingAndGlyphs">2008</text>
<text x="378.39" y="184.40" font-size="7.90" fill="#4a4a4a" stroke="#4a4a4a" stroke-width="0.1" text-anchor="middle" textLength="15.3" lengthAdjust="spacingAndGlyphs">2018</text>
<text x="49.25" y="265.00" font-size="7.90" fill="#4a4a4a" stroke="#4a4a4a" stroke-width="0.1" text-anchor="middle" textLength="15.3" lengthAdjust="spacingAndGlyphs">1978</text>
<text x="69.95" y="265.00" font-size="7.90" fill="#4a4a4a" stroke="#4a4a4a" stroke-width="0.1" text-anchor="middle" textLength="15.3" lengthAdjust="spacingAndGlyphs">1988</text>
<text x="90.65" y="265.00" font-size="7.90" fill="#4a4a4a" stroke="#4a4a4a" stroke-width="0.1" text-anchor="middle" textLength="15.3" lengthAdjust="spacingAndGlyphs">1998</text>
<text x="111.35" y="265.00" font-size="7.90" fill="#4a4a4a" stroke="#4a4a4a" stroke-width="0.1" text-anchor="middle" textLength="15.3" lengthAdjust="spacingAndGlyphs">2008</text>
<text x="132.05" y="265.00" font-size="7.90" fill="#4a4a4a" stroke="#4a4a4a" stroke-width="0.1" text-anchor="middle" textLength="15.3" lengthAdjust="spacingAndGlyphs">2018</text>
<text x="172.42" y="265.00" font-size="7.90" fill="#4a4a4a" stroke="#4a4a4a" stroke-width="0.1" text-anchor="middle" textLength="15.3" lengthAdjust="spacingAndGlyphs">1978</text>
<text x="193.12" y="265.00" font-size="7.90" fill="#4a4a4a" stroke="#4a4a4a" stroke-width="0.1" text-anchor="middle" textLength="15.3" lengthAdjust="spacingAndGlyphs">1988</text>
<text x="213.82" y="265.00" font-size="7.90" fill="#4a4a4a" stroke="#4a4a4a" stroke-width="0.1" text-anchor="middle" textLength="15.3" lengthAdjust="spacingAndGlyphs">1998</text>
<text x="234.52" y="265.00" font-size="7.90" fill="#4a4a4a" stroke="#4a4a4a" stroke-width="0.1" text-anchor="middle" textLength="15.3" lengthAdjust="spacingAndGlyphs">2008</text>
<text x="255.22" y="265.00" font-size="7.90" fill="#4a4a4a" stroke="#4a4a4a" stroke-width="0.1" text-anchor="middle" textLength="15.3" lengthAdjust="spacingAndGlyphs">2018</text>
<line x1="321.1" y1="216.30" x2="331.2" y2="216.30" stroke="#0f3068" stroke-width="1.6"/>
<circle cx="326.1" cy="216.30" r="1.75" fill="#fff" stroke="#4a6fab" stroke-width="0.8"/>
<text x="336.20" y="219.40" font-size="8.60" fill="#333" stroke="#333" stroke-width="0.1" text-anchor="start" textLength="26.6" lengthAdjust="spacingAndGlyphs">Under 40</text>
<line x1="321.1" y1="228.30" x2="331.2" y2="228.30" stroke="#d03c1c" stroke-width="1.6"/>
<circle cx="326.1" cy="228.30" r="1.75" fill="#fff" stroke="#e8694c" stroke-width="0.8"/>
<text x="336.20" y="231.40" font-size="8.60" fill="#333" stroke="#333" stroke-width="0.1" text-anchor="start" textLength="23.1" lengthAdjust="spacingAndGlyphs">Over 60</text>
<text x="396.20" y="286.60" font-size="8.30" fill="#222" stroke="#222" stroke-width="0.1" text-anchor="end" textLength="36.1" lengthAdjust="spacingAndGlyphs">@ryanburge</text>
<text x="396.20" y="294.90" font-size="8.30" fill="#222" stroke="#222" stroke-width="0.1" text-anchor="end" textLength="116.1" lengthAdjust="spacingAndGlyphs">Data: General Social Survey 1972-2022</text>
</svg></body></html>
